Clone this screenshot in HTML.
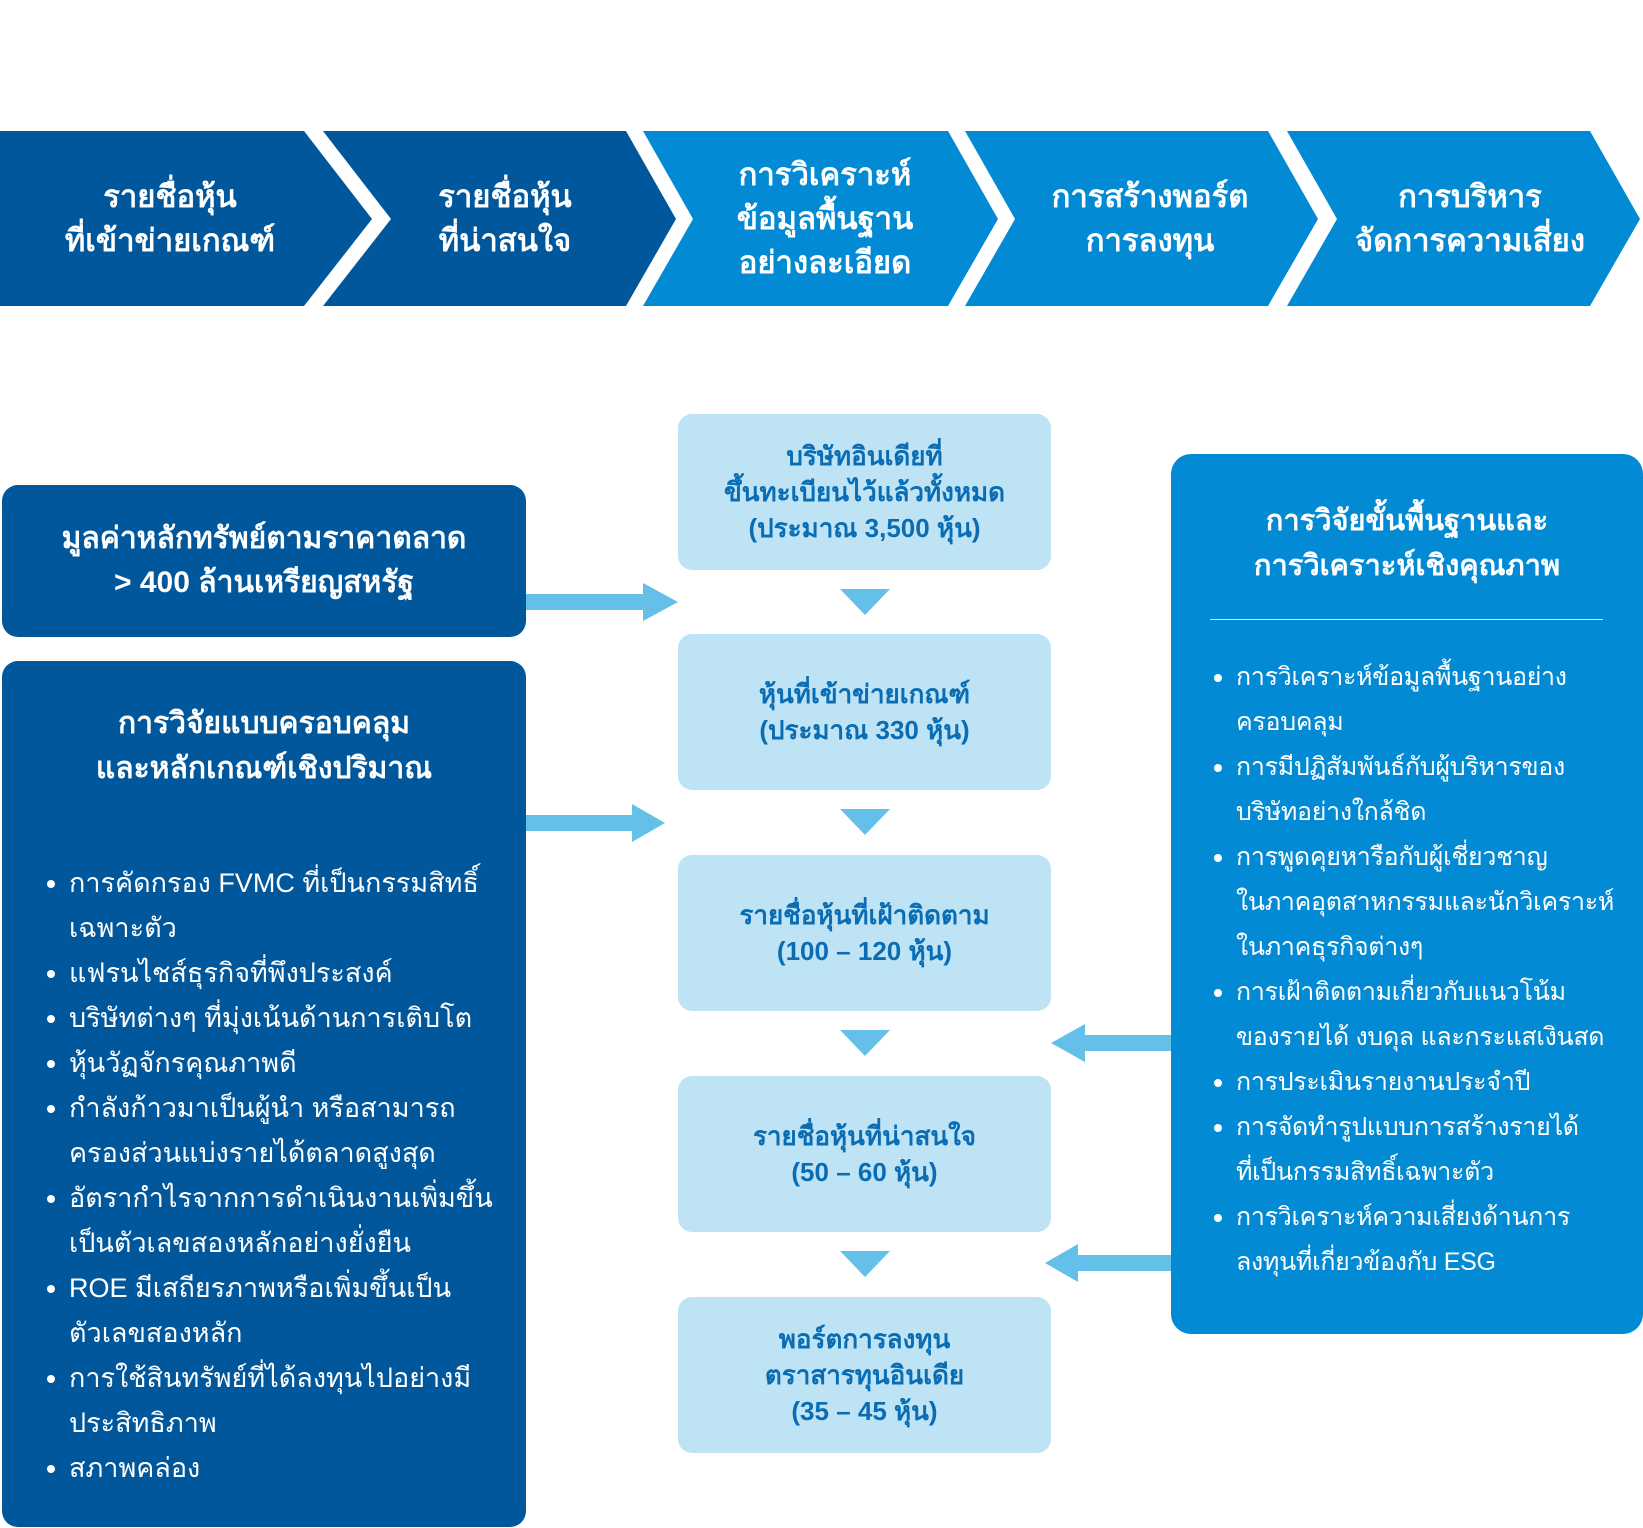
<!DOCTYPE html>
<html><head><meta charset="utf-8"><style>
body{margin:0;width:1643px;height:1528px;background:#fff;position:relative;overflow:hidden;font-family:"Liberation Sans",sans-serif}
.a{position:absolute}
.ct{position:absolute;color:#fff;font-weight:bold;font-size:31px;text-align:center;line-height:44px;display:flex;align-items:center;justify-content:center}
.cb{position:absolute;left:678px;width:373px;height:156px;background:#bde3f5;border-radius:14px;color:#0a6db4;font-weight:bold;font-size:26px;line-height:36px;text-align:center;display:flex;align-items:center;justify-content:center}
ul{margin:0;padding:0;list-style:none}
li{position:relative;padding-left:22px;font-size:27px;line-height:45px;color:#fff;white-space:nowrap}
li:before{content:"";position:absolute;left:0;top:19px;width:8px;height:8px;border-radius:50%;background:#fff}
.r li{font-size:25px;letter-spacing:-0.3px}
</style></head><body>
<svg class="a" style="left:0;top:0" width="1643" height="1528">
<polygon points="0,131 304,131 372,219 304,306 0,306" fill="#01579b"/>
<polygon points="323,131 626,131 676,219 626,306 323,306 391,219" fill="#01579b"/>
<polygon points="643,131 948,131 998,219 948,306 643,306 693,219" fill="#028bd4"/>
<polygon points="965,131 1268,131 1318,219 1268,306 965,306 1015,219" fill="#028bd4"/>
<polygon points="1287,131 1590,131 1640,219 1590,306 1287,306 1337,219" fill="#028bd4"/>
<g fill="#64c0e8">
<rect x="526" y="594" width="122" height="16"/><polygon points="643,583 678,602 643,621"/>
<rect x="526" y="815" width="110" height="16"/><polygon points="632,804 665,823 632,842"/>
<rect x="1085" y="1035" width="86" height="16"/><polygon points="1085,1024 1051,1043 1085,1062"/>
<rect x="1078" y="1255" width="93" height="16"/><polygon points="1078,1244 1045,1263 1078,1282"/>
<polygon points="840,589 890,589 865,615"/>
<polygon points="840,809 890,809 865,835"/>
<polygon points="840,1030 890,1030 865,1056"/>
<polygon points="840,1251 890,1251 865,1277"/>
</g>
</svg>
<div class="ct" style="left:20px;top:131px;width:300px;height:175px">รายชื่อหุ้น<br>ที่เข้าข่ายเกณฑ์</div>
<div class="ct" style="left:360px;top:131px;width:290px;height:175px">รายชื่อหุ้น<br>ที่น่าสนใจ</div>
<div class="ct" style="left:680px;top:131px;width:290px;height:175px">การวิเคราะห์<br>ข้อมูลพื้นฐาน<br>อย่างละเอียด</div>
<div class="ct" style="left:1000px;top:131px;width:300px;height:175px">การสร้างพอร์ต<br>การลงทุน</div>
<div class="ct" style="left:1320px;top:131px;width:300px;height:175px">การบริหาร<br>จัดการความเสี่ยง</div>

<div class="a" style="left:2px;top:485px;width:524px;height:152px;background:#01579b;border-radius:16px;color:#fff;font-weight:bold;font-size:30px;line-height:44px;text-align:center;display:flex;align-items:center;justify-content:center">มูลค่าหลักทรัพย์ตามราคาตลาด<br>&gt; 400 ล้านเหรียญสหรัฐ</div>
<div class="a" style="left:2px;top:661px;width:524px;height:866px;background:#01579b;border-radius:16px">
<div style="position:absolute;top:40px;width:100%;text-align:center;color:#fff;font-weight:bold;font-size:30px;line-height:45px">การวิจัยแบบครอบคลุม<br>และหลักเกณฑ์เชิงปริมาณ</div>
<ul style="position:absolute;left:45px;top:200px;width:470px">
<li>การคัดกรอง FVMC ที่เป็นกรรมสิทธิ์<br>เฉพาะตัว</li><li>แฟรนไชส์ธุรกิจที่พึงประสงค์</li><li>บริษัทต่างๆ ที่มุ่งเน้นด้านการเติบโต</li><li>หุ้นวัฏจักรคุณภาพดี</li><li>กำลังก้าวมาเป็นผู้นำ หรือสามารถ<br>ครองส่วนแบ่งรายได้ตลาดสูงสุด</li><li>อัตรากำไรจากการดำเนินงานเพิ่มขึ้น<br>เป็นตัวเลขสองหลักอย่างยั่งยืน</li><li>ROE มีเสถียรภาพหรือเพิ่มขึ้นเป็น<br>ตัวเลขสองหลัก</li><li>การใช้สินทรัพย์ที่ได้ลงทุนไปอย่างมี<br>ประสิทธิภาพ</li><li>สภาพคล่อง</li>
</ul></div>

<div class="cb" style="top:414px">บริษัทอินเดียที่<br>ขึ้นทะเบียนไว้แล้วทั้งหมด<br>(ประมาณ 3,500 หุ้น)</div>
<div class="cb" style="top:634px">หุ้นที่เข้าข่ายเกณฑ์<br>(ประมาณ 330 หุ้น)</div>
<div class="cb" style="top:855px">รายชื่อหุ้นที่เฝ้าติดตาม<br>(100 – 120 หุ้น)</div>
<div class="cb" style="top:1076px">รายชื่อหุ้นที่น่าสนใจ<br>(50 – 60 หุ้น)</div>
<div class="cb" style="top:1297px">พอร์ตการลงทุน<br>ตราสารทุนอินเดีย<br>(35 – 45 หุ้น)</div>

<div class="a" style="left:1171px;top:454px;width:472px;height:880px;background:#028bd4;border-radius:20px">
<div style="position:absolute;top:45px;width:100%;text-align:center;color:#fff;font-weight:bold;font-size:29px;line-height:45px">การวิจัยขั้นพื้นฐานและ<br>การวิเคราะห์เชิงคุณภาพ</div>
<div style="position:absolute;left:39px;top:165px;width:393px;height:1px;background:#cfe9f7"></div>
<ul class="r" style="position:absolute;left:43px;top:201px;width:425px">
<li>การวิเคราะห์ข้อมูลพื้นฐานอย่าง<br>ครอบคลุม</li><li>การมีปฏิสัมพันธ์กับผู้บริหารของ<br>บริษัทอย่างใกล้ชิด</li><li>การพูดคุยหารือกับผู้เชี่ยวชาญ<br>ในภาคอุตสาหกรรมและนักวิเคราะห์<br>ในภาคธุรกิจต่างๆ</li><li>การเฝ้าติดตามเกี่ยวกับแนวโน้ม<br>ของรายได้ งบดุล และกระแสเงินสด</li><li>การประเมินรายงานประจำปี</li><li>การจัดทำรูปแบบการสร้างรายได้<br>ที่เป็นกรรมสิทธิ์เฉพาะตัว</li><li>การวิเคราะห์ความเสี่ยงด้านการ<br>ลงทุนที่เกี่ยวข้องกับ ESG</li>
</ul></div>
</body></html>
